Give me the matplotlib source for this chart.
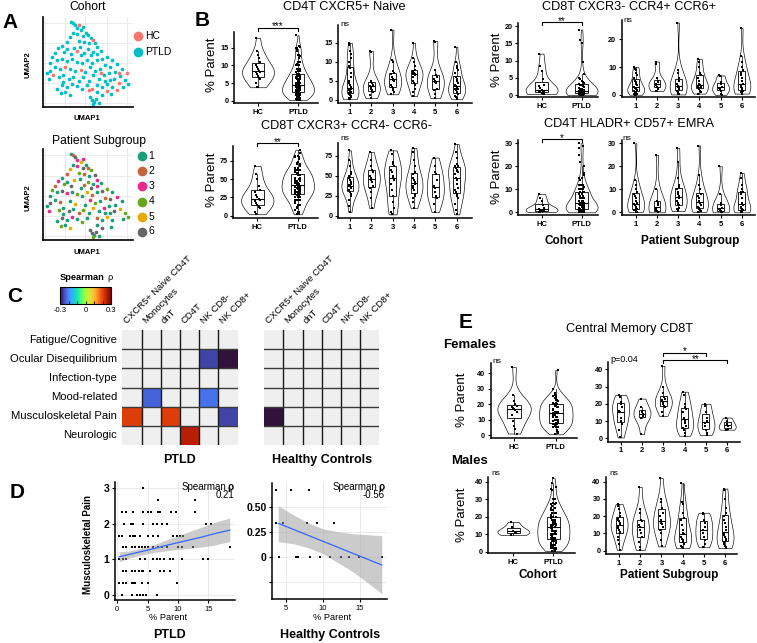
import numpy as np
import matplotlib
matplotlib.use('Agg')
import matplotlib.pyplot as plt
from matplotlib.cm import ScalarMappable
from matplotlib.colors import Normalize

plt.rcParams['font.family'] = ['Liberation Sans', 'DejaVu Sans']

# ------------------------------------------------------------------ data
# A: UMAP embedding (arbitrary units); group 0 = HC, 1..6 = PTLD subgroups
umap1 = [12.2, 12.8, 13.5, 14.8, 14.0, 15.2, 16.0, 16.8, 17.5, 18.2, 19.0, 15.8, 14.2, 12.8, 12.0, 14.6, 16.2, 17.6, 19.6, 20.2, 11.2,
         8.5, 9.6, 10.2, 11.2, 12.2, 13.2, 14.2, 15.2, 16.2, 17.4, 18.2, 19.0, 20.2, 21.2,
         7.6, 6.6, 8.0, 9.6, 11.0, 12.6, 14.0, 15.6, 17.2, 18.6, 20.0, 21.6, 23.0, 24.6, 26.2, 27.6, 29.0, 28.6, 27.0, 25.6,
         24.0, 22.6, 21.0, 19.6, 18.0, 16.6, 15.2, 13.6, 12.0, 10.4, 9.0, 7.4, 6.0, 5.0, 5.6, 7.0, 8.6, 10.0, 11.6, 13.0,
         14.6, 16.0, 17.6, 19.0, 20.6, 22.2, 23.6, 25.2, 26.6, 28.0, 29.4, 26.2, 24.6, 23.2, 21.6, 20.0, 18.6, 17.0, 15.6,
         14.0, 12.6, 11.0, 9.6, 8.2, 9.2, 10.6, 12.0, 20.2, 21.6, 23.2, 24.2, 18.6, 19.3, 19.9, 18.9, 20.6, 18.0, 17.6,
         26.8, 6.0, 22.4, 21.2, 15.0, 10.0, 24.0]
umap2 = [26.5, 26.0, 25.5, 25.4, 24.5, 24.0, 24.8, 23.2, 22.4, 21.6, 21.0, 22.2, 22.8, 23.2, 22.0, 20.8, 20.5, 20.0, 20.2, 18.8, 20.4,
         18.5, 19.2, 17.4, 18.2, 16.8, 18.6, 17.6, 16.4, 17.2, 18.2, 16.4, 17.4, 16.8, 17.8,
         17.0, 15.8, 15.0, 15.4, 14.8, 15.2, 14.4, 14.0, 15.0, 14.2, 15.0, 15.4, 16.0, 15.0, 13.8, 12.4, 11.2, 9.0, 10.2, 11.4,
         13.0, 13.4, 12.4, 11.8, 12.8, 11.4, 12.0, 11.6, 12.4, 13.0, 12.2, 12.8, 11.8, 11.0, 9.4, 10.4, 9.8, 10.4, 9.4, 10.0,
         8.8, 9.8, 8.8, 10.4, 9.4, 10.4, 11.0, 9.4, 8.0, 7.0, 7.8, 6.0, 6.8, 7.8, 6.8, 7.4, 6.4, 7.4, 6.2,
         7.2, 7.8, 6.8, 7.4, 6.4, 5.0, 5.4, 4.4, 5.4, 4.4, 5.8, 4.8, 3.0, 2.4, 3.2, 1.8, 2.1, 3.8, 6.0,
         11.2, 14.0, 8.8, 11.0, 19.0, 8.5, 9.0]
umap_group = [1, 2, 6, 0, 3, 5, 3, 1, 2, 4, 0, 6, 3, 1, 5, 4, 2, 1, 6, 3, 2,
              3, 1, 4, 1, 6, 5, 0, 1, 2, 4, 6, 1, 3, 1,
              2, 4, 1, 6, 3, 1, 4, 1, 5, 2, 1, 6, 4, 1, 3, 1, 0, 4, 5, 1,
              6, 2, 1, 4, 3, 1, 0, 5, 1, 0, 2, 1, 6, 1, 3, 0, 4, 1, 6, 1,
              2, 4, 1, 5, 1, 3, 1, 6, 0, 1, 4, 0, 1, 5, 1, 2, 0, 1, 4,
              1, 3, 1, 6, 1, 4, 1, 5, 1, 6, 0, 1, 6, 1, 6, 4, 1, 6, 0,
              0, 1, 1, 0, 1, 1, 1]
subgroup_colors = ['#1b9e77', '#c4653f', '#e7298a', '#66a61e', '#e6ab02', '#666666']

# B: % parent per cohort / patient subgroup (PTLD = all subgroups pooled)
cxcr5_hc = [17.8, 14.0, 13.0, 12.0, 11.0, 10.0, 9.5, 9.0, 8.5, 8.2, 8.0, 7.5, 7.0, 6.5, 6.0, 5.0, 4.0, 3.8]
cxcr5_sub = [
    [15.0, 14.5, 13.0, 12.0, 11.0, 10.0, 9.0, 8.5, 7.0, 6.0, 5.0, 4.5, 4.0, 3.5, 3.0, 2.8, 2.5, 2.3, 2.2, 2.0, 1.8, 1.5, 1.2, 1.0, 0.8, 0.5, 0.3, 0.2],
    [12.8, 12.5, 5.0, 4.5, 4.0, 3.8, 3.5, 3.0, 2.5, 2.0, 1.2, 0.5],
    [18.5, 10.5, 10.0, 7.5, 7.0, 6.8, 6.0, 5.5, 5.3, 5.0, 4.0, 3.5, 3.0, 2.5, 2.0, 1.5],
    [15.0, 11.0, 10.0, 9.0, 8.0, 7.5, 7.2, 7.0, 6.8, 6.5, 6.0, 5.0, 4.5, 4.0, 3.0, 2.0, 1.0],
    [15.5, 15.3, 8.0, 6.5, 6.0, 5.5, 5.0, 4.8, 4.5, 3.0, 2.5, 1.5, 0.5],
    [14.0, 10.0, 9.0, 8.5, 8.0, 7.0, 6.0, 5.5, 5.0, 4.5, 4.0, 3.8, 3.5, 3.2, 3.0, 2.8, 2.5, 2.0, 1.8, 1.5, 1.0, 0.8, 0.5, 0.2],
]
cxcr3_hc = [68, 57, 50, 40, 35, 32, 28, 25, 23, 22, 20, 18, 15, 12, 10, 5, 2]
cxcr3_sub = [
    [82, 70, 62, 55, 52, 50, 47, 45, 43, 40, 39, 38, 37, 36, 35, 33, 32, 30, 28, 25, 20, 12, 5],
    [80, 70, 62, 58, 55, 50, 48, 45, 42, 38, 35, 30, 22, 10],
    [82, 78, 68, 65, 62, 58, 55, 50, 48, 45, 40, 32, 25, 18, 10, 5, 2],
    [85, 80, 70, 62, 55, 52, 48, 45, 42, 40, 38, 35, 32, 28, 25, 22, 18, 10],
    [73, 62, 55, 52, 45, 38, 35, 30, 25, 22, 15, 5],
    [90, 80, 72, 65, 63, 62, 60, 58, 56, 55, 52, 48, 45, 40, 35, 32, 30, 28, 25, 22, 15, 8, 2],
]
ccr6_hc = [12, 8.5, 7, 4.5, 3, 2.5, 2, 1.5, 1.3, 1.2, 1, 0.8, 0.6, 0.5, 0.3]
ccr6_ptld = [19, 16, 15, 9.5, 6, 5, 4.5, 4, 3.8, 3.5, 3.2, 3, 2.8, 2.5, 2.2, 2, 1.8, 1.6, 1.5, 1.4, 1.3, 1.2, 1.1, 1.0,
             0.9, 0.9, 0.8, 0.8, 0.7, 0.7, 0.6, 0.6, 0.5, 0.5, 0.5, 0.4, 0.4, 0.3, 0.3, 0.2, 0.2, 0.1, 0.1, 0.0]
ccr6_sub = [
    [10, 9.5, 9, 8, 7, 6, 5, 4.5, 4, 3.5, 3, 2.5, 2.2, 2, 1.8, 1.5, 1.2, 1, 0.8, 0.5, 0.3, 0.1],
    [12, 11, 6, 5, 4.5, 4, 3.5, 3, 2.5, 2, 1.5],
    [26, 9, 8, 6, 5, 4, 3.2, 3, 2.5, 2, 1.5, 1, 0.5, 0.2],
    [13, 12, 10, 8, 7, 6, 5, 4, 3.5, 3, 2.8, 2.5, 2, 1.5, 1, 0.5],
    [7, 6.8, 4.5, 4, 3, 2.5, 2, 1.5, 0.5, 0],
    [24, 14, 12, 10, 9, 8, 7, 6, 5, 4, 3.5, 3, 2.5, 2, 1.5, 1.2, 1, 0.8, 0.5],
]
emra_hc = [8, 6, 5, 3, 2, 1.5, 1.2, 1, 0.8, 0.5, 0.3, 0.2]
emra_sub = [
    [30, 14, 12, 10, 9, 8, 7, 6, 5, 4, 3.5, 3, 2.5, 2, 1.5, 1, 0.8, 0.5, 0.3, 0.1],
    [25, 10, 5, 4, 3, 1.5, 1, 0.5, 0.3, 0],
    [28, 22, 15, 12, 11, 10, 9, 8, 7, 6, 5, 4, 3.5, 3, 2, 1.5, 1, 0.5],
    [29, 16, 12, 10, 8, 7, 6, 5, 4, 3, 2.5, 2, 1.5, 1, 0.5, 0.2],
    [20, 8, 4, 3, 2, 1.5, 1, 0.5, 0.2, 0],
    [17, 15, 12, 10, 9, 9, 8, 6, 4, 3, 2.5, 2, 1.5, 1, 0.8, 0.5, 0.3, 0],
]

# E: central memory CD8T by sex
cm_f_hc = [44, 26, 22, 20, 19, 18, 17.5, 17, 16, 15, 13, 9, 6, 4, 1]
cm_f_sub = [
    [25, 24, 21, 20, 18, 16, 15, 12, 10, 8, 5, 0.5],
    [23, 18, 15, 14, 13, 12, 2.5],
    [42, 30, 26, 24, 23, 22, 21, 20, 19, 18, 15, 13],
    [27, 25, 20, 18, 17, 15, 12, 10, 9, 7, 6, 5, 3, 1.5],
    [20, 19, 15, 12, 10, 9, 7, 5, 3, 2],
    [12, 10, 8, 7, 5.5, 5],
]
cm_m_hc = [17, 14, 12, 11.5, 10.5, 9.5]
cm_m_sub = [
    [27, 26, 24, 22, 20, 19, 18, 17, 16, 15, 14, 13, 12, 11, 10, 8, 6, 4, 0.5],
    [37, 24, 22, 18, 17, 15, 13.5, 12, 10, 8, 5, 2, 0.5],
    [42, 30, 28, 25, 22, 20, 18, 16, 15.5, 14, 12, 10, 6, 2.5],
    [39, 28, 27, 22, 19, 18, 15, 12, 10, 9.5, 8, 7, 6, 5, 4, 3, 2, 1.5],
    [22, 21, 18, 16, 14, 12, 10, 8, 6, 4, 2],
    [36, 35, 30, 25, 22, 20, 18, 16, 14, 12, 10, 9, 8, 7, 6, 5, 4, 3, 2, 1.5],
]

# C: Spearman correlations (nan = not significant)
symptoms = ['Fatigue/Cognitive', 'Ocular Disequilibrium', 'Infection-type',
            'Mood-related', 'Musculoskeletal Pain', 'Neurologic']
cell_types = ['CXCR5+ Naive CD4T', 'Monocytes', 'dnT', 'CD4T', 'NK CD8-', 'NK CD8+']
nan = np.nan
rho_ptld = [[nan, nan, nan, nan, nan, nan],
            [nan, nan, nan, nan, -0.26, -0.31],
            [nan, nan, nan, nan, nan, nan],
            [nan, -0.23, nan, nan, -0.22, nan],
            [0.21, nan, 0.21, nan, nan, -0.26],
            [nan, nan, nan, 0.25, nan, nan]]
rho_hc = [[nan, nan, nan, nan, nan, nan],
          [nan, nan, nan, nan, nan, nan],
          [nan, nan, nan, nan, nan, nan],
          [nan, nan, nan, nan, nan, nan],
          [-0.56, nan, nan, nan, nan, nan],
          [nan, nan, nan, nan, nan, nan]]

# D: musculoskeletal pain score vs % parent (CXCR5+ naive CD4T)
ptld_levels = [3, 8/3, 7/3, 2, 5/3, 4/3, 1, 2/3, 1/3, 0]
ptld_pct = [[4.2],
            [6.7, 12.8],
            [0.7, 1.5, 2.6, 4.2, 5.1, 5.5, 6.7, 7.1, 8.8, 9.7, 12.8],
            [1.1, 2.2, 2.6, 4.2, 5.8, 6.5, 7.3, 8.1, 14.6, 15.4],
            [0.2, 0.7, 2.1, 2.5, 2.9, 3.7, 5.1, 5.9, 6.7, 9.2, 9.8, 10.3, 10.8],
            [1.0, 1.5, 2.4, 2.9, 3.5, 4.0, 4.6, 5.1, 5.9, 6.7, 7.3, 8.1, 10.0, 10.6, 12.4, 18.5],
            [0.3, 0.9, 1.5, 3.7, 4.6, 5.9, 6.5, 7.0, 7.6, 8.7, 9.2, 10.6, 14.1, 15.0],
            [1.0, 1.5, 2.4, 2.9, 3.5, 4.0, 4.2, 5.3, 7.0, 7.6, 8.7],
            [0.2, 1.0, 1.5, 2.4, 2.6, 2.9, 4.0, 5.1, 9.9],
            [0.8, 2.4, 3.2, 3.7, 4.2, 4.7, 6.6]]
ptld_fit_x = [0.3, 2, 4, 6, 8, 10, 12, 14, 16, 18.5]
ptld_fit_y = [1.07, 1.14, 1.22, 1.30, 1.39, 1.47, 1.55, 1.63, 1.72, 1.82]
ptld_fit_lo = [0.93, 1.04, 1.12, 1.19, 1.24, 1.28, 1.31, 1.35, 1.40, 1.50]
ptld_fit_hi = [1.21, 1.24, 1.32, 1.41, 1.54, 1.66, 1.79, 1.91, 2.04, 2.16]
ptld_rho = '0.21'

hc_levels = [2/3, 1/3, 0]
hc_pct = [[3.7, 5.7, 8.1],
          [3.7, 4.7, 7.8, 9.2, 11.5],
          [4.1, 6.4, 6.6, 8.3, 9.6, 11.0, 12.4, 13.5, 14.9, 17.9]]
hc_fit_x = [4.0, 6, 8, 10, 12, 14, 16, 17.9]
hc_fit_y = [0.334, 0.274, 0.214, 0.154, 0.094, 0.034, -0.026, -0.083]
hc_fit_lo = [0.15, 0.13, 0.09, 0.03, -0.06, -0.15, -0.26, -0.37]
hc_fit_hi = [0.51, 0.42, 0.34, 0.28, 0.25, 0.23, 0.22, 0.21]
hc_rho = '-0.56'

cohort_labels = ['HC', 'PTLD']
subgroup_labels = ['1', '2', '3', '4', '5', '6']

# ------------------------------------------------------------------ helpers
W, H = 757, 643
fig = plt.figure(figsize=(W / 100, H / 100), dpi=100)


def pax(l, t, r, b):
    return fig.add_axes([l / W, 1 - b / H, (r - l) / W, (b - t) / H])


ov = fig.add_axes([0, 0, 1, 1], zorder=20)
ov.set_xlim(0, W)
ov.set_ylim(H, 0)
ov.axis('off')


def T(x, y, s, size=8, weight='normal', ha='center', va='center', **kw):
    ov.text(x, y, s, fontsize=size, fontweight=weight, ha=ha, va=va, **kw)


def violin_panel(box, groups, pos, xlim, ylim, yticks, xlabels, fs=5.5):
    ax = pax(*box)
    data = [np.asarray(v, float) for v in groups]
    parts = ax.violinplot(data, positions=pos, widths=0.8, showextrema=False)
    for body in parts['bodies']:
        body.set_facecolor('white')
        body.set_edgecolor('black')
        body.set_linewidth(0.45)
        body.set_alpha(1)
        body.set_zorder(1)
    ax.boxplot(data, positions=pos, widths=0.32, showfliers=False, patch_artist=True,
               boxprops=dict(facecolor='none', edgecolor='black', linewidth=0.6),
               medianprops=dict(color='black', linewidth=0.8),
               whiskerprops=dict(color='black', linewidth=0.5),
               capprops=dict(linewidth=0), zorder=2, manage_ticks=False)
    for p, v in zip(pos, data):
        offs = ((np.arange(len(v)) % 5) - 2) * 0.03
        ax.scatter(p + offs, v, s=2.5, marker='s', color='black', linewidths=0, zorder=3)
    ax.set_xlim(*xlim)
    ax.set_ylim(*ylim)
    ax.set_xticks(pos)
    ax.set_xticklabels(xlabels, fontsize=fs, fontweight='bold')
    ax.set_yticks(yticks)
    ax.set_yticklabels([str(y) for y in yticks], fontsize=fs - 0.3, fontweight='bold')
    ax.tick_params(length=2.5, width=0.8, pad=1.5)
    for s in ['top', 'right']:
        ax.spines[s].set_visible(False)
    for s in ['left', 'bottom']:
        ax.spines[s].set_linewidth(1.1)
    ax.patch.set_alpha(0)
    return ax


def bracket(ax, x1, x2, y, label, drop, fs=7):
    ax.plot([x1, x1, x2, x2], [y - drop, y, y, y - drop], color='black', lw=0.8,
            clip_on=False, zorder=5)
    ax.annotate(label, xy=((x1 + x2) / 2, y), xytext=(0, -1.2), textcoords='offset points',
                ha='center', va='baseline', fontsize=fs, annotation_clip=False)


def style_umap(ax):
    ax.set_xlim(3.9, 30.9)
    ax.set_ylim(0.9, 27.9)
    ax.set_xticks([4.5, 10.5, 16.5, 23, 29])
    ax.set_yticks([2, 8, 14, 20, 26])
    ax.grid(True, color='#e8e8e8', lw=0.6)
    ax.set_axisbelow(True)
    ax.tick_params(length=0, labelbottom=False, labelleft=False)
    for s in ['top', 'right']:
        ax.spines[s].set_visible(False)
    for s in ['left', 'bottom']:
        ax.spines[s].set_linewidth(1.2)


# ------------------------------------------------------------------ A
u1 = np.array(umap1)
u2 = np.array(umap2)
grp = np.array(umap_group)
hc_mask = grp == 0

axA1 = pax(43, 17, 133, 107)
style_umap(axA1)
axA1.scatter(u1[~hc_mask], u2[~hc_mask], s=7, color='#00bfc4', lw=0)
axA1.scatter(u1[hc_mask], u2[hc_mask], s=7, color='#f8766d', lw=0)

axA2 = pax(43, 149, 133, 240)
style_umap(axA2)
for k in range(1, 7):
    m = grp == k
    axA2.scatter(u1[m], u2[m], s=7, color=subgroup_colors[k - 1], lw=0)

T(10, 22, 'A', 15, 'bold')
T(87.5, 7.5, 'Cohort', 8.7)
T(28.5, 65, 'UMAP2', 5.5, 'bold', rotation=90)
T(87, 118.5, 'UMAP1', 5.5, 'bold')
for yy, lab, col in [(36, 'HC', '#f8766d'), (51.7, 'PTLD', '#00bfc4')]:
    ov.plot([137.7], [yy], 'o', ms=7, color=col, mec='none')
    T(145, yy, lab, 7.5, ha='left')
T(99, 141, 'Patient Subgroup', 8.7)
T(28.5, 198, 'UMAP2', 5.5, 'bold', rotation=90)
T(87, 252.5, 'UMAP1', 5.5, 'bold')
for k, yy in enumerate([156, 171, 186, 201.5, 216.5, 231.5]):
    ov.plot([141.7], [yy], 'o', ms=7, color=subgroup_colors[k], mec='none')
    T(148.5, yy, subgroup_labels[k], 7.5, ha='left')

# ------------------------------------------------------------------ B
cohort_pos = [0, 1]
sub_pos = [1, 2, 3, 4, 5, 6]


def pooled(sub):
    return [v for g in sub for v in g]


axB1 = violin_panel((234, 31.7, 318, 103), [cxcr5_hc, pooled(cxcr5_sub)], cohort_pos,
                    (-0.6, 1.5), (-0.65, 19.5), [0, 5, 10, 15], cohort_labels)
bracket(axB1, 0, 1, 20.6, '***', 0.85)
violin_panel((338, 25, 472, 103), cxcr5_sub, sub_pos, (0.44, 6.72), (-0.79, 19.7),
             [0, 5, 10, 15], subgroup_labels)
axB3 = violin_panel((233, 145.7, 318, 218), [cxcr3_hc, pooled(cxcr3_sub)], cohort_pos,
                    (-0.6, 1.5), (-3.1, 95.5), [0, 25, 50, 75], cohort_labels)
bracket(axB3, 0, 1, 99.0, '**', 4)
violin_panel((338, 143, 472, 218), cxcr3_sub, sub_pos, (0.44, 6.72), (-2.5, 91.25),
             [0, 25, 50, 75], subgroup_labels)
axB5 = violin_panel((518, 23, 598, 97), [ccr6_hc, ccr6_ptld], cohort_pos,
                    (-0.59, 1.41), (-0.58, 20.9), [0, 5, 10, 15, 20], cohort_labels)
bracket(axB5, 0, 1, 21.2, '**', 0.85)
violin_panel((621.7, 20, 755, 97), ccr6_sub, sub_pos, (0.34, 6.62), (-0.72, 26.9),
             [0, 10, 20], subgroup_labels)
axB7 = violin_panel((518, 140, 598, 215), [emra_hc, pooled(emra_sub)], cohort_pos,
                    (-0.59, 1.41), (-1.17, 31.4), [0, 10, 20, 30], cohort_labels)
bracket(axB7, 0, 1, 31.7, '*', 1.3)
violin_panel((621.7, 140, 755, 215), emra_sub, sub_pos, (0.34, 6.62), (-1.17, 31.4),
             [0, 10, 20, 30], subgroup_labels)

T(202.5, 21, 'B', 15, 'bold')
T(344, 7, 'CD4T CXCR5+ Naive', 9.2)
T(346.5, 126, 'CD8T CXCR3+ CCR4- CCR6-', 9.2)
T(629.5, 6.5, 'CD8T CXCR3- CCR4+ CCR6+', 9.2)
T(628.8, 124, 'CD4T HLADR+ CD57+ EMRA', 9.2)
for (x, y) in [(212, 65), (212, 180), (497, 60), (497, 177)]:
    T(x, y, '% Parent', 9.5, rotation=90)
for (x, y) in [(340, 24), (340, 139), (623, 20.5), (622, 139)]:
    T(x, y, 'ns', 6, ha='left')
T(564, 241, 'Cohort', 8.5, 'bold')
T(690, 241, 'Patient Subgroup', 8.5, 'bold')

# ------------------------------------------------------------------ C
cmap = plt.get_cmap('turbo')
norm = Normalize(-0.3, 0.3)


def heat(box, M):
    ax = pax(*box)
    ax.set_facecolor('#efefef')
    Mm = np.ma.masked_invalid(np.array(M, float))
    ax.pcolormesh(np.arange(7), np.arange(7), Mm, cmap=cmap, norm=norm)
    ax.set_xlim(0, 6)
    ax.set_ylim(6, 0)
    for k in range(1, 6):
        ax.axvline(k, color='#1a1a1a', lw=1.0)
        ax.axhline(k, color='#3a3a3a', lw=1.0)
    ax.set_xticks([])
    ax.set_yticks([])
    for s in ax.spines.values():
        s.set_visible(False)
    for j, lab in enumerate(cell_types):
        ax.text(j + 0.3, -0.25, lab, rotation=45, ha='left', va='bottom',
                rotation_mode='anchor', fontsize=6.8, clip_on=False)
    return ax


heat((122.3, 330, 237.7, 445), rho_ptld)
heat((264.3, 330, 379, 445), rho_hc)
for i, lab in enumerate(symptoms):
    T(117, 330 + 19.17 * (i + 0.5), lab, 8.1, ha='right')
T(180, 460, 'PTLD', 9, 'bold')
T(321.7, 460, 'Healthy Controls', 9, 'bold')

cax = pax(60, 287, 111, 304)
cb = fig.colorbar(ScalarMappable(norm=norm, cmap=cmap), cax=cax, orientation='horizontal')
cb.set_ticks([-0.3, -0.2, -0.1, 0, 0.1, 0.2, 0.3])
cb.set_ticklabels(['-0.3', '', '', '0', '', '', '0.3'])
cb.ax.tick_params(labelsize=5.5, length=2, width=0.6, direction='in', pad=2, color='black')
cb.outline.set_linewidth(0.8)
T(15, 297, 'C', 15, 'bold')
T(105, 277, 'Spearman', 6.7, 'bold', ha='right')
T(107, 277, 'ρ', 6.7, ha='left')

# ------------------------------------------------------------------ D


def style_d(ax, xlim, ylim, xt, yt, ytl):
    ax.set_xlim(*xlim)
    ax.set_ylim(*ylim)
    ax.set_xticks(xt)
    ax.set_xticklabels([str(v) for v in xt], fontsize=5.5)
    ax.set_yticks(yt)
    ax.set_yticklabels(ytl, fontsize=7.5, fontweight='bold')
    ax.grid(True, color='#e6e6e6', lw=0.6)
    ax.set_axisbelow(True)
    ax.tick_params(length=2.5, width=0.8, pad=1.5)
    for s in ['top', 'right']:
        ax.spines[s].set_visible(False)
    for s in ['left', 'bottom']:
        ax.spines[s].set_linewidth(1.1)


def flat(levels, pcts):
    xs, ys = [], []
    for lv, row in zip(levels, pcts):
        xs += row
        ys += [lv] * len(row)
    return xs, ys


axD1 = pax(115, 482, 235, 600)
style_d(axD1, (-0.38, 19.36), (-0.14, 3.17), [0, 5, 10, 15], [0, 1, 2, 3], ['0', '1', '2', '3'])
xs, ys = flat(ptld_levels, ptld_pct)
axD1.scatter(xs, ys, s=2.5, marker='s', color='black', lw=0, zorder=3)
axD1.fill_between(ptld_fit_x, ptld_fit_lo, ptld_fit_hi, color='#999999', alpha=0.5, lw=0, zorder=4)
axD1.plot(ptld_fit_x, ptld_fit_y, color='#3366ff', lw=0.9, zorder=5)

axD2 = pax(272, 483, 387, 599)
style_d(axD2, (3.16, 18.6), (-0.423, 0.737), [5, 10, 15], [-0.25, 0, 0.25, 0.5],
        ['', '0', '0.25', '0.50'])
xs, ys = flat(hc_levels, hc_pct)
axD2.scatter(xs, ys, s=2.5, marker='s', color='black', lw=0, zorder=3)
axD2.fill_between(hc_fit_x, hc_fit_lo, hc_fit_hi, color='#999999', alpha=0.5, lw=0, zorder=4)
axD2.plot(hc_fit_x, hc_fit_y, color='#3366ff', lw=0.9, zorder=5)

T(17.5, 492, 'D', 15, 'bold')
T(88, 545, 'Musculoskeletal Pain', 7, 'bold', rotation=90)
T(168, 617.5, '% Parent', 6.7)
T(331.7, 617.5, '% Parent', 6.7)
T(169, 635, 'PTLD', 9, 'bold')
T(330, 635, 'Healthy Controls', 9, 'bold')
T(226, 487, 'Spearman', 7, ha='right')
T(227.5, 487, 'ρ', 7, 'bold', ha='left')
T(234, 495.5, ptld_rho, 7, ha='right')
T(377, 487, 'Spearman', 7, ha='right')
T(378.5, 487, 'ρ', 7, 'bold', ha='left')
T(385, 495.5, hc_rho, 7, ha='right')

# ------------------------------------------------------------------ E
violin_panel((490.7, 363, 576.7, 438.3), [cm_f_hc, pooled(cm_f_sub)], cohort_pos,
             (-0.56, 1.5), (-2.1, 46.7), [0, 10, 20, 30, 40], cohort_labels)
axE2 = violin_panel((608.3, 362, 740, 441.7), cm_f_sub, sub_pos, (0.42, 6.6), (-1.97, 44.2),
                    [0, 10, 20, 30, 40], subgroup_labels)
bracket(axE2, 3, 5, 49.6, '*', 1.7)
bracket(axE2, 3, 6, 45.4, '**', 1.7)
violin_panel((488.3, 477, 575, 553.3), [cm_m_hc, pooled(cm_m_sub)], cohort_pos,
             (-0.625, 1.54), (-0.9, 42.7), [0, 10, 20, 30, 40], cohort_labels)
violin_panel((606, 477, 736.7, 554), cm_m_sub, sub_pos, (0.38, 6.55), (-1.9, 42.7),
             [0, 10, 20, 30, 40], subgroup_labels)

T(466, 322, 'E', 15, 'bold')
T(630, 329, 'Central Memory CD8T', 9.2)
T(470, 345, 'Females', 9.5, 'bold')
T(470, 461, 'Males', 9.5, 'bold')
T(462, 400, '% Parent', 9.5, rotation=90)
T(462, 515, '% Parent', 9.5, rotation=90)
T(492, 361.5, 'ns', 6, ha='left')
T(610, 359, 'p=0.04', 6.5, ha='left')
T(491, 473.5, 'ns', 6, ha='left')
T(609, 473.5, 'ns', 6, ha='left')
T(538.3, 575, 'Cohort', 8.5, 'bold')
T(669, 575, 'Patient Subgroup', 8.5, 'bold')

fig.savefig('out.png', dpi=100)
